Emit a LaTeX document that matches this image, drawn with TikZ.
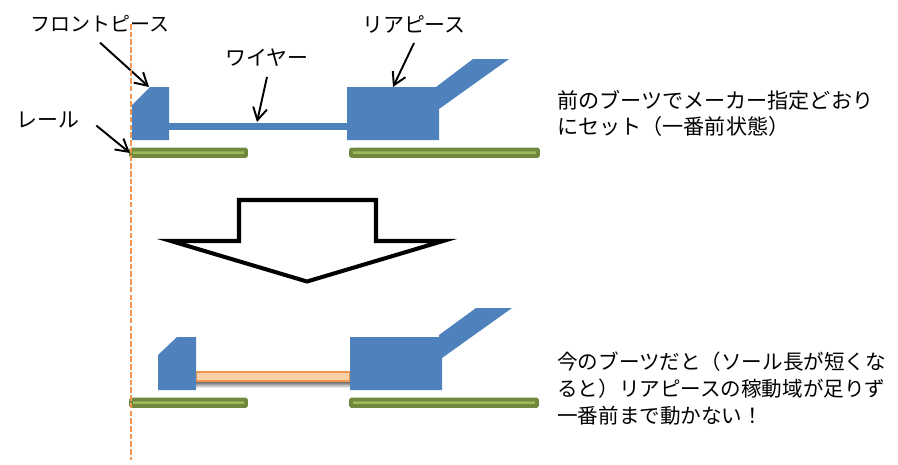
\documentclass[tikz,border=0pt]{standalone}
\usepackage{fontspec}
\usepackage{tikz}
\usetikzlibrary{arrows.meta}
\newfontfamily\cjk{Noto Sans CJK JP}
\definecolor{piece}{RGB}{79, 129, 189}
\definecolor{railedge}{RGB}{113, 137, 63}
\definecolor{railfill}{RGB}{155, 187, 89}
\definecolor{limit}{RGB}{240, 150, 80}
\definecolor{slack}{RGB}{253, 208, 165}

\tikzset{
  lbl/.style={font=\cjk\fontsize{11.9}{14}\selectfont, inner sep=5.6pt},
  note/.style={font=\cjk\fontsize{11.7}{15.2}\selectfont, align=left, anchor=north west, inner sep=0},
  pointer/.style={-{Straight Barb[length=7pt, width=8pt]}, line width=1.1pt},
  rail/.style={draw=railedge, fill=railfill, line width=2.1pt, rounded corners=0.4pt}
}

\begin{document}
\begin{tikzpicture}[x=0.02cm, y=-0.02cm]
  \useasboundingbox (0, 0) rectangle (898, 464);

  % upper state
  \fill[piece] (169, 123) rectangle (347, 130);
  \fill[piece] (132, 105) -- (150, 87) -- (169, 87) -- (169, 140) -- (132, 140) -- cycle;
  \fill[piece] (347, 87) -- (436, 87) -- (473, 59) -- (509, 59) -- (439, 109)
    -- (439, 140) -- (347, 140) -- cycle;
  \draw[rail] (131, 149.5) rectangle (246, 156);
  \draw[rail] (351, 149.5) rectangle (538, 156);

  \node[lbl, font=\cjk\fontsize{11.4}{14}\selectfont] (frontlabel) at (100, 24) {フロントピース};
  \node[lbl] (wirelabel) at (267, 58) {ワイヤー};
  \node[lbl] (rearlabel) at (414, 24) {リアピース};
  \node[lbl] (raillabel) at (48, 120) {レール};

  \coordinate (fronttip) at (149, 87);
  \coordinate (wiretip) at (257, 122);
  \coordinate (reartip) at (393, 87);
  \coordinate (railtip) at (130, 153);

  \draw[pointer] (frontlabel.south) -- (fronttip);
  \draw[pointer] (wirelabel.south) -- (wiretip);
  \draw[pointer] (rearlabel.south) -- (reartip);
  \draw[pointer, shorten <=5pt] (raillabel.east) -- (railtip);

  \node[note, font=\cjk\fontsize{12}{15}\selectfont] (uppernote) at (557, 90) {前のブーツでメーカー指定どおり\\にセット（一番前状態）};

  % big arrow
  \draw[line width=2.3pt, miter limit=10] (239, 200) -- (376, 200) -- (376, 241) -- (443, 241)
    -- (307, 281.5) -- (171, 241) -- (239, 241) -- cycle;

  % lower state
  \shade[top color=black!65, bottom color=white] (196, 381) rectangle (350, 388);
  \draw[draw=limit, fill=slack, line width=1.2pt] (196, 372) rectangle (350, 381);
  \fill[piece] (158, 355) -- (177, 337) -- (196, 337) -- (196, 390) -- (158, 390) -- cycle;
  \fill[piece] (350, 337) -- (439, 337) -- (439, 335) -- (476, 308) -- (512, 308) -- (442, 358)
    -- (442, 390) -- (350, 390) -- cycle;
  \draw[rail] (131, 399.5) rectangle (246, 406);
  \draw[rail] (351, 399.5) rectangle (537, 406);

  \node[note] (lowernote) at (557, 352) {今のブーツだと（ソール長が短くな\\ると）リアピースの稼動域が足りず\\一番前まで動かない！};

  \draw[limit, line width=1.3pt, dash pattern=on 3.2pt off 1.2pt] (131, 24) -- (131, 460);
\end{tikzpicture}
\end{document}
